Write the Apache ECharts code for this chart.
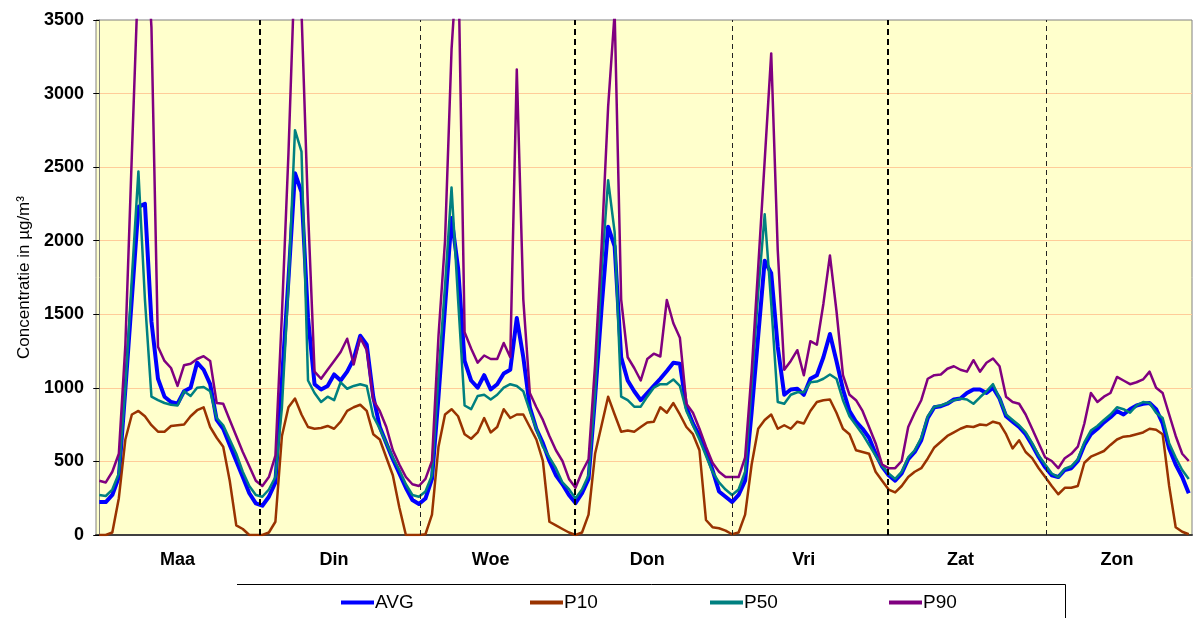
<!DOCTYPE html>
<html>
<head>
<meta charset="utf-8">
<title>Concentratie per uur</title>
<script src="https://cdn.jsdelivr.net/npm/echarts@6.0.0/dist/echarts.min.js"></script>
<style>
  html, body { margin: 0; padding: 0; background: #fff; }
  #chart { width: 1193px; height: 618px; }
</style>
</head>
<body>
<div id="chart"></div>
<script>
// 7 dagen x 24 uur, waarden in µg/m3
var days = ['Maa', 'Din', 'Woe', 'Don', 'Vri', 'Zat', 'Zon']
var dayLabelHours = [12, 36, 60, 84, 108, 132, 156]
// dag-scheidingen (in uur-index), dik/dun gestippeld
var daySplits = [24.6, 49.2, 72.9, 97.1, 120.9, 145.1]
var daySplitBold = [true, false, true, false, true, false]

var avg = [
  224, 224, 272, 394, 990, 1610, 2230, 2250, 1450, 1062, 940, 904, 892, 977, 1001, 1171, 1123, 1025, 782, 722, 612, 503, 394, 284,
  215, 199, 260, 357, 1055, 1737, 2459, 2330, 1475, 1025, 989, 1013, 1091, 1050, 1110, 1196, 1354, 1293, 940, 734, 624, 515, 418, 321,
  238, 211, 248, 381, 940, 1548, 2155, 1815, 1183, 1050, 1001, 1086, 989, 1025, 1098, 1123, 1475, 1208, 868, 722, 624, 503, 406, 345,
  272, 217, 284, 381, 936, 1543, 2095, 1961, 1208, 1050, 977, 916, 965, 1013, 1062, 1115, 1171, 1164, 868, 758, 673, 564, 442, 296,
  260, 224, 272, 369, 836, 1350, 1864, 1779, 1280, 953, 989, 994, 953, 1062, 1086, 1208, 1366, 1183, 989, 843, 770, 722, 661, 552,
  465, 406, 369, 418, 515, 564, 644, 795, 868, 875, 892, 921, 928, 965, 989, 989, 965, 1001, 928, 807, 770, 734, 685, 612,
  530, 460, 406, 394, 442, 454, 503, 612, 685, 722, 765, 800, 843, 819, 855, 880, 892, 897, 855, 758, 588, 479, 394, 284
]
var p10 = [
  0, 0, 17, 250, 649, 819, 843, 807, 746, 702, 702, 741, 746, 751, 807, 848, 868, 734, 661, 600, 369, 66, 41, 0,
  0, 0, 17, 90, 673, 868, 928, 819, 734, 722, 727, 741, 722, 770, 843, 868, 885, 843, 685, 649, 527, 406, 187, 0,
  0, 0, 5, 138, 600, 819, 855, 807, 685, 654, 697, 795, 697, 734, 855, 795, 819, 819, 734, 649, 503, 90, 66, 41,
  17, 0, 17, 138, 552, 746, 940, 819, 702, 710, 702, 734, 765, 770, 868, 831, 897, 819, 734, 685, 576, 102, 53, 46,
  30, 5, 17, 138, 479, 722, 782, 819, 722, 746, 722, 770, 758, 843, 904, 916, 921, 831, 722, 685, 576, 564, 552, 430,
  369, 309, 289, 333, 394, 430, 454, 520, 595, 634, 673, 697, 722, 739, 734, 751, 746, 770, 758, 685, 588, 644, 564, 522,
  454, 394, 333, 277, 321, 321, 333, 491, 532, 552, 571, 612, 649, 668, 673, 685, 697, 722, 715, 685, 333, 53, 22, 5
]
var p50 = [
  272, 265, 309, 418, 1000, 1750, 2471, 1600, 940, 916, 897, 885, 880, 977, 945, 1001, 1006, 977, 795, 746, 649, 552, 430, 333,
  272, 260, 309, 394, 868, 1694, 2751, 2605, 1050, 965, 904, 940, 916, 1038, 994, 1013, 1025, 1013, 807, 722, 624, 527, 442, 345,
  272, 260, 296, 406, 1086, 1694, 2362, 1601, 880, 855, 945, 953, 921, 953, 1001, 1025, 1013, 977, 843, 722, 600, 527, 454, 357,
  312, 248, 309, 406, 965, 1791, 2411, 2058, 940, 916, 872, 872, 940, 1001, 1025, 1025, 1057, 1013, 843, 746, 649, 539, 430, 357,
  309, 272, 309, 430, 1013, 1645, 2180, 1572, 904, 892, 953, 970, 970, 1038, 1043, 1062, 1091, 1062, 916, 807, 746, 685, 612, 539,
  470, 418, 381, 430, 527, 576, 661, 807, 872, 880, 897, 916, 928, 921, 892, 936, 977, 1025, 928, 819, 782, 746, 697, 624,
  540, 479, 418, 394, 450, 467, 515, 629, 710, 741, 782, 819, 868, 855, 831, 880, 904, 897, 831, 795, 624, 527, 442, 381
]
var p90 = [
  369, 357, 430, 552, 1290, 2590, 3840, 4200, 3450, 1280, 1183, 1135, 1013, 1154, 1164, 1196, 1215, 1183, 897, 892, 782, 673, 564, 467,
  369, 333, 394, 539, 1500, 2593, 3900, 3560, 2204, 1110, 1062, 1123, 1183, 1244, 1334, 1159, 1341, 1256, 916, 843, 734, 576, 479, 394,
  345, 333, 381, 503, 1353, 2000, 3300, 4000, 1378, 1268, 1171, 1220, 1196, 1196, 1305, 1208, 3164, 1600, 965, 868, 782, 673, 576, 503,
  381, 321, 430, 515, 1159, 1961, 2909, 3550, 1600, 1208, 1135, 1050, 1196, 1232, 1213, 1597, 1439, 1341, 892, 831, 722, 600, 491, 430,
  394, 394, 394, 527, 1110, 1815, 2544, 3273, 1937, 1123, 1183, 1256, 1086, 1317, 1293, 1572, 1900, 1524, 1086, 953, 916, 843, 734, 624,
  479, 454, 454, 503, 734, 831, 916, 1062, 1086, 1091, 1130, 1147, 1123, 1110, 1188, 1110, 1171, 1200, 1147, 940, 904, 892, 819, 722,
  624, 527, 503, 454, 522, 552, 600, 758, 965, 904, 940, 965, 1074, 1050, 1025, 1038, 1057, 1110, 1001, 965, 819, 673, 552, 503
]

var font = 'Liberation Sans, Arial, sans-serif'

function toPoints(values) {
  return values.map(function(v, i) { return [i, v] })
}

function lineSeries(name, values, color, width) {
  return {
    name: name,
    type: 'line',
    data: toPoints(values),
    showSymbol: false,
    symbol: 'none',
    lineStyle: { color: color, width: width, join: 'round' },
    itemStyle: { color: color },
    emphasis: { disabled: true }
  }
}

function legendItem(name, left) {
  return {
    data: [name],
    left: left,
    top: 593,
    padding: 0,
    icon: 'rect',
    itemWidth: 33,
    itemHeight: 4,
    selectedMode: false,
    textStyle: { fontSize: 19, color: '#000', fontFamily: font, padding: [0, 0, 0, -4] }
  }
}

var chart = echarts.init(document.getElementById('chart'))

var series = [
  lineSeries('AVG', avg, '#0000FF', 4),
  lineSeries('P10', p10, '#993300', 2.5),
  lineSeries('P50', p50, '#008080', 2.5),
  lineSeries('P90', p90, '#800080', 2.5)
]
series[3].markLine = {
  silent: true,
  symbol: ['none', 'none'],
  label: { show: false },
  data: daySplits.map(function(x, k) {
    return {
      xAxis: x,
      lineStyle: daySplitBold[k]
        ? { color: '#000', width: 2, type: [6, 4] }
        : { color: '#222', width: 1, type: [5, 4] }
    }
  })
}

chart.setOption({
  animation: false,
  backgroundColor: '#fff',
  grid: {
    left: 96,
    right: 1,
    top: 20,
    bottom: 83,
    show: true,
    backgroundColor: '#FFFFCC',
    borderColor: '#808080',
    borderWidth: 1
  },
  legend: [
    legendItem('AVG', 341),
    legendItem('P10', 530),
    legendItem('P50', 710),
    legendItem('P90', 889)
  ],
  xAxis: {
    type: 'value',
    min: -0.5,
    max: 167.5,
    axisLine: { lineStyle: { color: '#404040', width: 2 } },
    axisTick: { show: false },
    splitLine: { show: false },
    axisLabel: {
      customValues: dayLabelHours,
      formatter: function(v) {
        return days[Math.round((v - 12) / 24)]
      },
      fontSize: 18,
      fontWeight: 'bold',
      color: '#000',
      fontFamily: font,
      margin: 16
    }
  },
  yAxis: {
    type: 'value',
    min: 0,
    max: 3500,
    interval: 500,
    name: 'Concentratie in µg/m³',
    nameLocation: 'middle',
    nameGap: 63,
    nameTextStyle: { fontSize: 17, color: '#000', fontFamily: font },
    axisLine: { show: true, lineStyle: { color: '#808080' } },
    axisTick: { show: true, length: 6, lineStyle: { color: '#000' } },
    axisLabel: {
      formatter: function(v) { return String(v) },
      fontSize: 18,
      fontWeight: 'bold',
      color: '#000',
      fontFamily: font,
      margin: 12
    },
    splitLine: { showMaxLine: false, lineStyle: { color: '#FFCC99', width: 1 } }
  },
  graphic: [
    { type: 'line', shape: { x1: 237, y1: 584.5, x2: 1065.5, y2: 584.5 }, style: { stroke: '#000', lineWidth: 1 }, silent: true },
    { type: 'line', shape: { x1: 1065.5, y1: 584.5, x2: 1065.5, y2: 618 }, style: { stroke: '#000', lineWidth: 1 }, silent: true }
  ],
  series: series
})
</script>
</body>
</html>
